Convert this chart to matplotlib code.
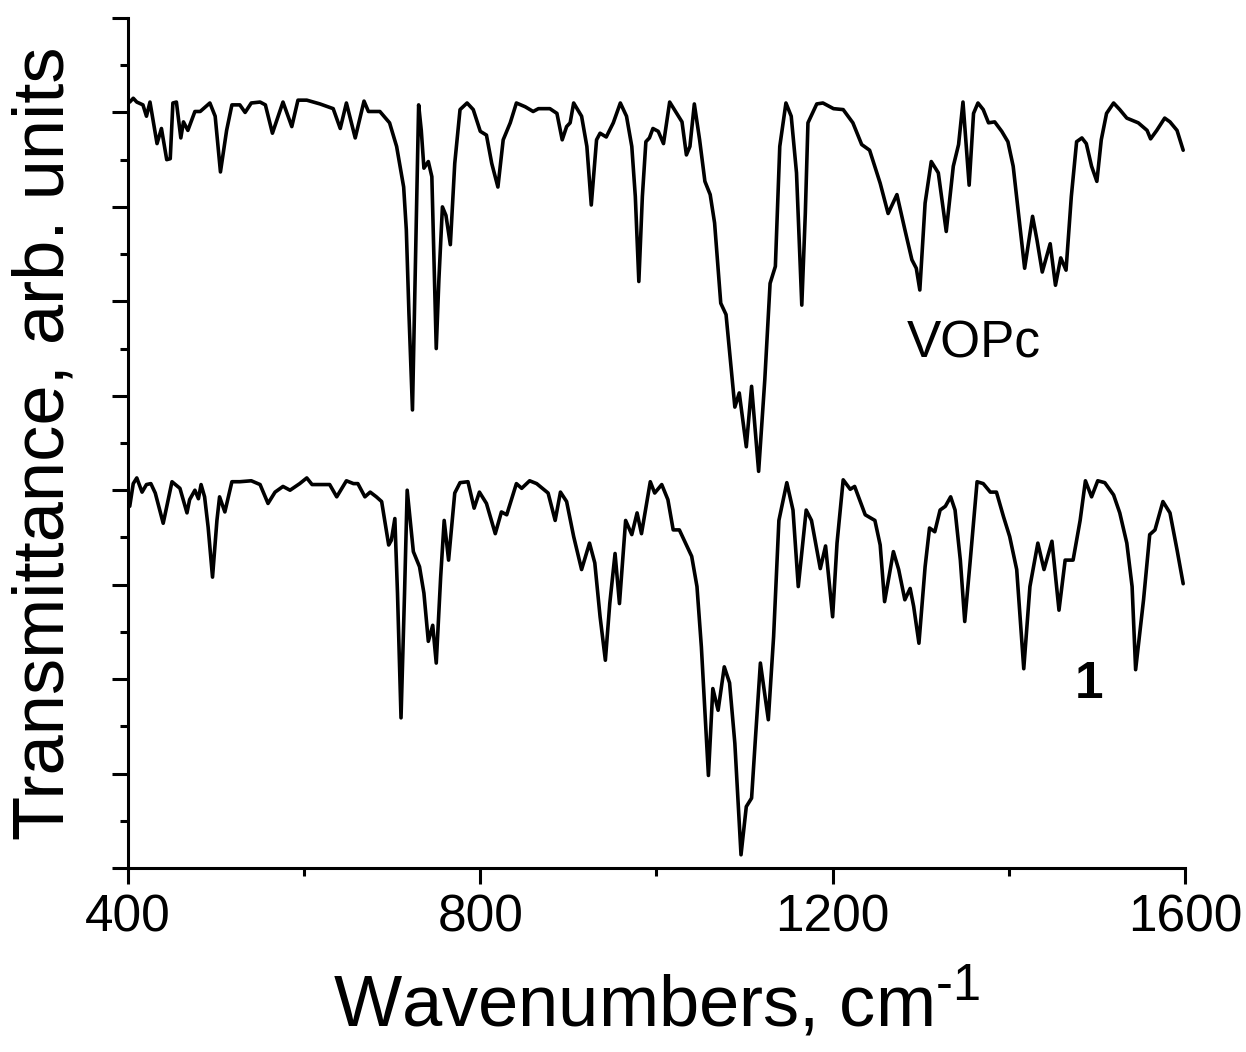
import matplotlib
matplotlib.use("Agg")
import matplotlib.pyplot as plt
from matplotlib.ticker import MultipleLocator
import numpy as np

plt.rcParams["font.family"] = ["Liberation Sans", "DejaVu Sans"]
plt.rcParams["mathtext.fontset"] = "custom"
plt.rcParams["mathtext.rm"] = "Liberation Sans"
plt.rcParams["mathtext.default"] = "regular"

# VOPc spectrum (upper trace)
wn_vopc = [402, 406, 410, 417, 421, 425, 433, 438, 444, 448, 451, 455, 460, 463, 468, 476,
           482, 493, 499, 505, 512, 518, 527, 533, 540, 550, 556, 564, 576, 586, 593, 603,
           618, 633, 641, 648, 658, 668, 673, 686, 697, 705, 713, 716, 719, 723, 726, 730,
           733, 736, 741, 745, 747, 750, 753, 757, 761, 766, 771, 777, 785, 792, 800, 807,
           813, 820, 826, 834, 841, 851, 860, 866, 879, 887, 893, 898, 902, 906, 915, 921,
           926, 932, 936, 943, 951, 959, 966, 972, 976, 980, 984, 988, 992, 996, 1002, 1008,
           1015, 1023, 1029, 1034, 1038, 1043, 1049, 1055, 1061, 1066, 1073, 1079, 1089, 1094, 1102, 1108,
           1116, 1123, 1129, 1135, 1140, 1147, 1153, 1159, 1165, 1169, 1172, 1182, 1189, 1201, 1212, 1223,
           1233, 1242, 1254, 1263, 1273, 1282, 1290, 1295, 1299, 1305, 1312, 1320, 1329, 1337, 1343, 1348,
           1355, 1360, 1365, 1371, 1377, 1384, 1392, 1399, 1405, 1411, 1418, 1427, 1432, 1438, 1447, 1453,
           1459, 1465, 1471, 1477, 1483, 1488, 1494, 1500, 1505, 1511, 1519, 1526, 1534, 1547, 1557, 1561,
           1568, 1577, 1583, 1591, 1598]
t_vopc = [8.11, 8.15, 8.11, 8.08, 7.96, 8.11, 7.67, 7.83, 7.50, 7.51, 8.10, 8.11, 7.73, 7.90, 7.81, 8.01,
          8.01, 8.10, 7.96, 7.37, 7.81, 8.08, 8.08, 8.00, 8.10, 8.11, 8.08, 7.78, 8.11, 7.85, 8.13, 8.13,
          8.09, 8.04, 7.83, 8.10, 7.73, 8.12, 8.01, 8.01, 7.89, 7.64, 7.21, 6.76, 5.87, 4.85, 6.23, 8.08,
          7.81, 7.41, 7.48, 7.32, 6.58, 5.50, 6.23, 7.00, 6.91, 6.60, 7.46, 8.03, 8.10, 8.03, 7.80, 7.76,
          7.46, 7.21, 7.71, 7.89, 8.10, 8.06, 8.01, 8.04, 8.04, 7.99, 7.71, 7.85, 7.89, 8.10, 7.96, 7.64,
          7.02, 7.71, 7.78, 7.74, 7.89, 8.10, 7.96, 7.64, 7.11, 6.21, 7.11, 7.69, 7.73, 7.83, 7.80, 7.67,
          8.11, 7.99, 7.90, 7.55, 7.64, 8.09, 7.71, 7.27, 7.13, 6.83, 5.98, 5.86, 4.88, 5.03, 4.46, 5.10,
          4.20, 5.17, 6.19, 6.37, 7.64, 8.10, 7.96, 7.36, 5.96, 6.93, 7.89, 8.09, 8.10, 8.04, 8.03, 7.89,
          7.66, 7.60, 7.25, 6.93, 7.13, 6.76, 6.44, 6.35, 6.12, 7.04, 7.48, 7.36, 6.74, 7.43, 7.66, 8.11,
          7.23, 7.99, 8.10, 8.03, 7.89, 7.90, 7.80, 7.69, 7.43, 6.93, 6.35, 6.90, 6.65, 6.31, 6.61, 6.17,
          6.46, 6.33, 7.11, 7.69, 7.73, 7.67, 7.43, 7.27, 7.71, 7.99, 8.10, 8.03, 7.94, 7.89, 7.81, 7.72,
          7.81, 7.94, 7.90, 7.81, 7.60]

# compound 1 spectrum (lower trace)
wn_1 = [402, 406, 410, 416, 421, 426, 431, 440, 450, 459, 467, 470, 476, 480, 483, 487,
        491, 496, 501, 504, 510, 518, 527, 540, 550, 559, 567, 576, 584, 595, 603, 609,
        618, 629, 637, 648, 656, 661, 669, 675, 682, 688, 696, 699, 703, 706, 710, 714,
        717, 720, 724, 731, 736, 741, 746, 750, 755, 759, 764, 771, 777, 786, 793, 799,
        807, 817, 824, 830, 841, 847, 856, 864, 877, 885, 891, 898, 906, 915, 924, 930,
        936, 942, 947, 953, 958, 965, 972, 978, 983, 993, 998, 1006, 1013, 1019, 1026, 1032,
        1040, 1046, 1051, 1055, 1059, 1064, 1070, 1077, 1083, 1089, 1096, 1102, 1108, 1112, 1118, 1127,
        1133, 1139, 1148, 1155, 1161, 1170, 1176, 1186, 1192, 1200, 1205, 1212, 1220, 1225, 1237, 1248,
        1254, 1259, 1269, 1275, 1282, 1288, 1292, 1298, 1305, 1310, 1316, 1322, 1328, 1334, 1339, 1345,
        1350, 1356, 1364, 1371, 1379, 1386, 1394, 1401, 1409, 1417, 1424, 1433, 1440, 1449, 1457, 1464,
        1473, 1481, 1487, 1494, 1501, 1509, 1519, 1526, 1534, 1540, 1544, 1553, 1560, 1566, 1575, 1583,
        1591, 1598]
t_1 = [3.83, 4.07, 4.13, 3.98, 4.06, 4.07, 3.97, 3.65, 4.09, 4.02, 3.76, 3.90, 4.00, 3.91, 4.06, 3.93,
       3.61, 3.08, 3.68, 3.93, 3.77, 4.09, 4.09, 4.10, 4.06, 3.86, 3.98, 4.04, 4.00, 4.07, 4.13, 4.06,
       4.06, 4.06, 3.93, 4.10, 4.07, 4.07, 3.93, 3.98, 3.93, 3.88, 3.42, 3.47, 3.70, 2.91, 1.59, 2.91,
       4.00, 3.72, 3.35, 3.19, 2.91, 2.40, 2.57, 2.17, 3.08, 3.68, 3.26, 3.97, 4.08, 4.09, 3.81, 3.98,
       3.86, 3.54, 3.77, 3.74, 4.07, 4.02, 4.10, 4.07, 3.97, 3.68, 3.98, 3.88, 3.51, 3.16, 3.44, 3.23,
       2.66, 2.20, 2.80, 3.33, 2.80, 3.68, 3.53, 3.76, 3.54, 4.09, 3.97, 4.06, 3.90, 3.58, 3.58, 3.46,
       3.30, 2.98, 2.34, 1.67, 0.98, 1.90, 1.67, 2.13, 1.96, 1.32, 0.14, 0.65, 0.74, 1.32, 2.17, 1.57,
       2.45, 3.68, 4.08, 3.79, 2.98, 3.79, 3.68, 3.17, 3.41, 2.66, 3.44, 4.11, 4.01, 4.04, 3.74, 3.68,
       3.42, 2.82, 3.35, 3.16, 2.84, 2.96, 2.77, 2.38, 3.19, 3.60, 3.56, 3.79, 3.83, 3.93, 3.79, 3.26,
       2.61, 3.23, 4.09, 4.07, 3.98, 3.98, 3.72, 3.51, 3.16, 2.11, 2.98, 3.44, 3.16, 3.46, 2.73, 3.26,
       3.26, 3.68, 4.10, 3.93, 4.10, 4.08, 3.95, 3.76, 3.44, 2.98, 2.10, 2.84, 3.53, 3.58, 3.88, 3.76,
       3.37, 3.01]

fig = plt.figure(figsize=(12.46, 10.52), dpi=100)
ax = fig.add_axes([0.1027, 0.1749, 0.8483, 0.808])

ax.plot(wn_vopc, t_vopc, color="black", lw=2.6, solid_joinstyle="round", solid_capstyle="round")
ax.plot(wn_1, t_1, color="black", lw=2.6, solid_joinstyle="round", solid_capstyle="round")

ax.text(1284, 5.41, "VOPc", fontsize=37, ha="left", va="baseline")
ax.text(1475, 1.80, "1", fontsize=37, fontweight="bold", ha="left", va="baseline")

ax.set_xlim(400, 1600)
ax.set_ylim(0, 9)
ax.xaxis.set_major_locator(MultipleLocator(400))
ax.xaxis.set_minor_locator(MultipleLocator(200))
ax.yaxis.set_major_locator(MultipleLocator(1))
ax.yaxis.set_minor_locator(MultipleLocator(0.5))
ax.set_yticklabels([])

for s in ["top", "right"]:
    ax.spines[s].set_visible(False)
for s in ["left", "bottom"]:
    ax.spines[s].set_linewidth(2.2)

ax.tick_params(which="major", direction="out", length=11.5, width=2.2, labelsize=37, pad=7)
ax.tick_params(which="minor", direction="out", length=5.8, width=2.2)

ax.set_xlabel("Wavenumbers, cm$^{\\text{-1}}$", fontsize=52, labelpad=16)
ax.set_ylabel("Transmittance, arb. units", fontsize=52, labelpad=17)

fig.savefig("out.png", dpi=100)
